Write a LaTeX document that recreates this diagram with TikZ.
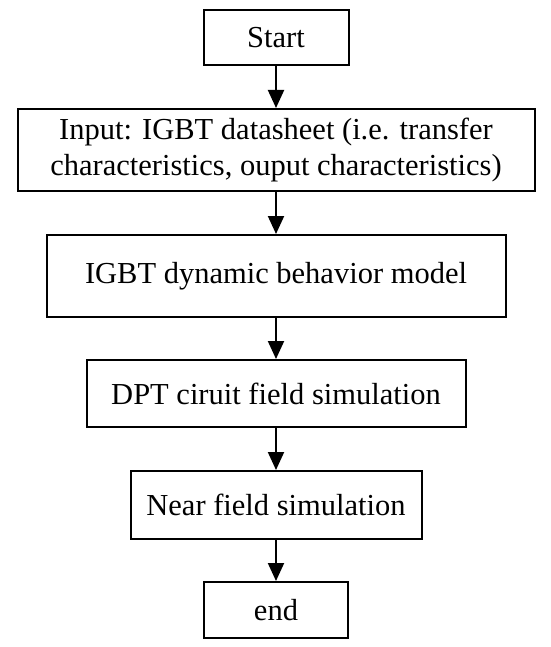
\documentclass[tikz,border=0pt]{standalone}
\usepackage{fontspec}
\setmainfont{Liberation Serif}
\usetikzlibrary{arrows.meta}
\tikzset{
  box/.style={draw=black, line width=2pt, inner sep=0pt, align=center, font=\fontsize{30.5}{36}\selectfont},
  flow/.style={line width=2pt, -{Triangle[width=16pt,length=18pt]}}
}
\begin{document}
\begin{tikzpicture}[x=1pt,y=-1pt]
\useasboundingbox (0,0) rectangle (550,647);
\node[box, minimum width=145pt, minimum height=55pt] (start) at (276,37.5) {Start};
\node[box, minimum width=517pt, minimum height=82pt] (input) at (276,150) {Input: IGBT datasheet (i.e. transfer\\characteristics, ouput characteristics)};
\node[box, minimum width=459pt, minimum height=82pt] (igbt) at (276,276) {IGBT dynamic behavior model};
\node[box, minimum width=379pt, minimum height=67pt] (dpt) at (276,393.5) {DPT ciruit field simulation};
\node[box, minimum width=291pt, minimum height=68pt] (near) at (276,505) {Near field simulation};
\node[box, minimum width=144pt, minimum height=56pt] (end) at (276,610) {end};
\draw[flow] (start.south) -- (input.north);
\draw[flow] (input.south) -- (igbt.north);
\draw[flow] (igbt.south) -- (dpt.north);
\draw[flow] (dpt.south) -- (near.north);
\draw[flow] (near.south) -- (end.north);
\end{tikzpicture}
\end{document}
